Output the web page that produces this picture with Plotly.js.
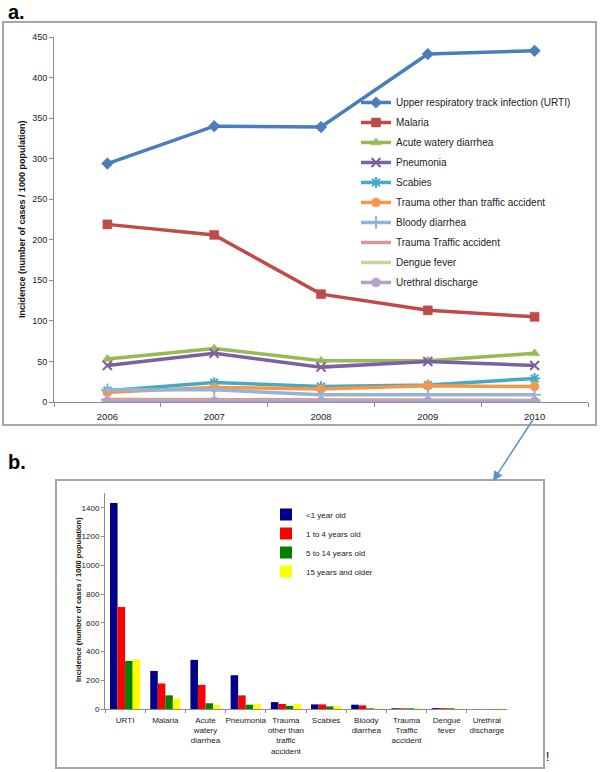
<!DOCTYPE html>
<html><head><meta charset="utf-8">
<script src="https://cdn.plot.ly/plotly-3.0.1.min.js"></script>
<style>html,body{margin:0;padding:0;background:#fff}#chart{width:600px;height:772px}</style>
</head><body><div id="chart"></div>
<script>
// ---- Panel a: incidence by year ----
const years = ["2006","2007","2008","2009","2010"];
const seriesNames = ["Upper respiratory track infection (URTI)","Malaria","Acute watery diarrhea","Pneumonia","Scabies","Trauma other than traffic accident","Bloody diarrhea","Trauma Traffic accident","Dengue fever","Urethral discharge"];
const urti = [294, 340, 339, 429, 433];
const malaria = [219, 206, 133, 113, 105];
const acuteWateryDiarrhea = [53, 66, 51, 51, 60];
const pneumonia = [45, 60, 43, 50, 45];
const scabies = [14, 24, 19, 21, 29];
const traumaOther = [12, 18, 16, 20, 19];
const bloodyDiarrhea = [15, 15, 9, 9, 9];
const traumaTraffic = [3, 3, 2, 2, 2];
const dengueFever = [1, 1, 1, 1, 1];
const urethralDischarge = [1, 1, 1, 1, 1];
const seriesA = [urti, malaria, acuteWateryDiarrhea, pneumonia, scabies, traumaOther, bloodyDiarrhea, traumaTraffic, dengueFever, urethralDischarge];
const yTicksA = [0,50,100,150,200,250,300,350,400,450];

// ---- Panel b: incidence in 2010 by age group ----
const categoriesB = ["URTI","Malaria","Acute<br>watery<br>diarrhea","Pneumonia","Trauma<br>other than<br>traffic<br>accident","Scabies","Bloody<br>diarrhea","Trauma<br>Traffic<br>accident","Dengue<br>fever","Urethral<br>discharge"];
const ageGroups = ["<1 year old","1 to 4 years old","5 to 14 years old","15 years and older"];
const under1 = [1435, 265, 342, 235, 48, 32, 30, 5, 6, 0];
const age1to4 = [710, 178, 168, 95, 35, 32, 25, 5, 6, 0];
const age5to14 = [335, 95, 40, 30, 22, 18, 5, 5, 5, 0];
const age15plus = [345, 72, 28, 35, 35, 20, 4, 5, 3, 4];
const seriesB = [under1, age1to4, age5to14, age15plus];
const yTicksB = [0,200,400,600,800,1000,1200,1400];

// styles
const W = 600, H = 772;
const px = v => v / W, py = v => 1 - v / H;
const colorsA = ["#4a7ebb","#be4b48","#98b954","#7d60a0","#46aac5","#f79646","#95b3d7","#d99694","#c3d69b","#b3a2c7"];
const symbolsA = ["diamond","square","triangle-up","x-thin-open","asterisk-open","circle","cross-thin-open","line-ew-open","line-ew-open","circle"];
const colorsB = ["#00008b","#ff0000","#008000","#ffff00"];
const font = "Liberation Sans, Arial, sans-serif";

const traces = [];
seriesA.forEach((vals, i) => {
  const open = symbolsA[i].indexOf("open") >= 0;
  traces.push({
    type: "scatter", mode: "lines+markers", x: years, y: vals, name: seriesNames[i],
    xaxis: "x", yaxis: "y", legend: "legend", legendgroup: "a" + i,
    line: {color: colorsA[i], width: 3.5},
    marker: {symbol: symbolsA[i], size: 9, color: colorsA[i], line: {color: colorsA[i], width: open ? 2 : 0.5}}
  });
});
seriesB.forEach((vals, i) => {
  traces.push({
    type: "bar", x: categoriesB, y: vals, name: ageGroups[i],
    xaxis: "x2", yaxis: "y2", legend: "legend2", legendgroup: "b" + i,
    marker: {color: colorsB[i]}
  });
});

const axisCommon = {showgrid: false, zeroline: false, showline: true, linecolor: "#8c8c8c", linewidth: 1, ticks: "outside", ticklen: 4, tickcolor: "#8c8c8c", fixedrange: true};

const layout = {
  width: W, height: H, autosize: false,
  margin: {l: 0, r: 0, t: 0, b: 0, pad: 0},
  paper_bgcolor: "#fff", plot_bgcolor: "rgba(0,0,0,0)",
  font: {family: font, color: "#222"},
  barmode: "group", bargap: 0.25, bargroupgap: 0,
  xaxis: Object.assign({}, axisCommon, {domain: [px(54), px(588)], anchor: "y", type: "category", range: [-0.5, 4.5], tickson: "boundaries", ticklabelstandoff: 6, tickangle: 0, tickfont: {size: 9.5, family: font, color: "#222"}}),
  yaxis: Object.assign({}, axisCommon, {domain: [py(402), py(37)], anchor: "x", range: [0, 450], tickvals: yTicksA, ticktext: yTicksA.map(String), tickfont: {size: 9, family: font, color: "#222"}}),
  xaxis2: Object.assign({}, axisCommon, {domain: [px(105), px(507)], anchor: "y2", type: "category", range: [-0.5, 9.5], tickson: "boundaries", ticklen: 3, tickangle: 0, ticklabelstandoff: 3, tickfont: {size: 8, family: font, color: "#222"}}),
  yaxis2: Object.assign({}, axisCommon, {domain: [py(709), py(493)], anchor: "x2", range: [0, 1504], tickvals: yTicksB, ticktext: yTicksB.map(String), ticklen: 3, tickfont: {size: 8, family: font, color: "#222"}}),
  showlegend: true,
  legend: {x: px(356), y: py(88), xanchor: "left", yanchor: "top", bgcolor: "rgba(0,0,0,0)", borderwidth: 0, font: {size: 10, family: font, color: "#222"}, tracegroupgap: 1, itemwidth: 30},
  legend2: {x: px(266), y: py(500), xanchor: "left", yanchor: "top", bgcolor: "rgba(0,0,0,0)", borderwidth: 0, font: {size: 8, family: font, color: "#222"}, tracegroupgap: 0, itemwidth: 30},
  shapes: [
    {type: "rect", xref: "paper", yref: "paper", x0: px(3), x1: px(596), y0: py(425), y1: py(22), line: {color: "#a6a6a6", width: 2}},
    {type: "rect", xref: "paper", yref: "paper", x0: px(56), x1: px(544), y0: py(768), y1: py(480), line: {color: "#a6a6a6", width: 2}}
  ],
  annotations: [
    {xref: "paper", yref: "paper", x: px(6), y: py(12), xanchor: "left", yanchor: "middle", text: "<b>a.</b>", showarrow: false, font: {size: 20, family: font, color: "#000"}},
    {xref: "paper", yref: "paper", x: px(6), y: py(462), xanchor: "left", yanchor: "middle", text: "<b>b.</b>", showarrow: false, font: {size: 20, family: font, color: "#000"}},
    {xref: "paper", yref: "paper", x: px(22), y: py(219), xanchor: "center", yanchor: "middle", textangle: -90, text: "<b>Incidence (number of cases / 1000 population)</b>", showarrow: false, font: {size: 9, family: font, color: "#111"}},
    {xref: "paper", yref: "paper", x: px(78), y: py(600), xanchor: "center", yanchor: "middle", textangle: -90, text: "<b>Incidence (number of cases / 1000 population)</b>", showarrow: false, font: {size: 7.5, family: font, color: "#111"}},
    {xref: "paper", yref: "paper", x: px(493), y: py(481), text: "", showarrow: true, ax: 41, ay: -63, arrowcolor: "#5b8fd0", arrowwidth: 1.5, arrowhead: 2, arrowsize: 1.3},
    {xref: "paper", yref: "paper", x: px(547), y: py(757), xanchor: "center", yanchor: "middle", text: "!", showarrow: false, font: {size: 12, family: font, color: "#000"}}
  ]
};

Plotly.newPlot("chart", traces, layout, {staticPlot: true, displayModeBar: false});
</script></body></html>
